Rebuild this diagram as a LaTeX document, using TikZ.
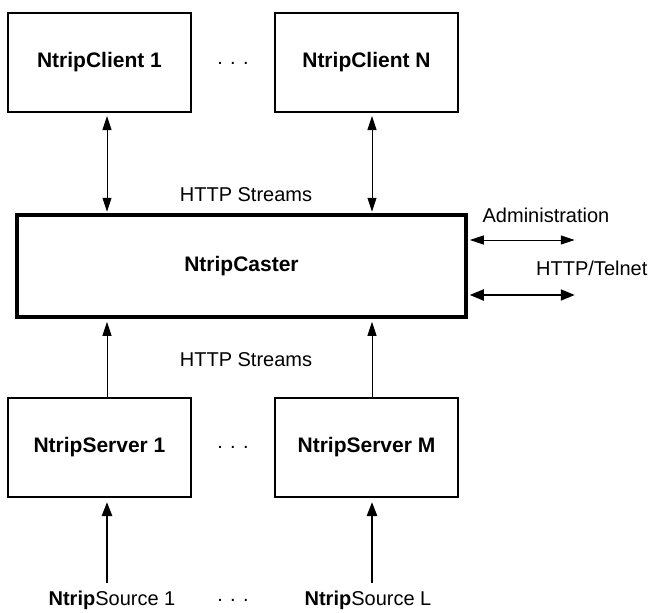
\documentclass[tikz,border=0pt]{standalone}
\usepackage{fontspec}
\setmainfont{Liberation Sans}
\usetikzlibrary{arrows.meta}
\begin{document}
\begin{tikzpicture}[x=1pt,y=-1pt,
  box/.style={draw,line width=2pt,minimum width=183pt,minimum height=99pt,inner sep=0pt,
    font=\fontsize{21}{24}\selectfont\bfseries},
  casterbox/.style={draw,line width=3.5pt,minimum width=449pt,minimum height=102pt,inner sep=0pt,
    font=\fontsize{21}{24}\selectfont\bfseries},
  lbl/.style={inner sep=0pt,font=\fontsize{20}{23}\selectfont},
  thinarrow/.style={line width=1pt,arrows={-{Triangle[width=9pt,length=14pt]}}},
  thinboth/.style={line width=1pt,arrows={{Triangle[width=9pt,length=14pt]}-{Triangle[width=9pt,length=14pt]}}},
  thickboth/.style={line width=2pt,arrows={{Triangle[width=11pt,length=14pt]}-{Triangle[width=11pt,length=14pt]}}},
  thickarrow/.style={line width=2.5pt,arrows={-{Triangle[width=10pt,length=14pt]}}}
]
\useasboundingbox (0,0) rectangle (649,613);
\fill[white] (0,0) rectangle (649,613);

\node[box] (c1) at (99.5,62.5) {NtripClient 1};
\node[box] (cN) at (366.5,62.5) {NtripClient N};
\node[casterbox] (caster) at (241.5,266) {NtripCaster};
\node[box] (s1) at (99.5,447.5) {NtripServer 1};
\node[box] (sM) at (366.5,447.5) {NtripServer M};

\node[lbl] (dots1) at (233,63) {. . .};
\node[lbl] (dots2) at (233,447) {. . .};
\node[lbl] (dots3) at (233,600) {. . .};

\node[lbl] (http1) at (246,195) {HTTP Streams};
\node[lbl] (http2) at (246,360) {HTTP Streams};
\node[lbl] (admin) at (546,215) {Administration};
\node[lbl,anchor=west] (telnet) at (536,268) {HTTP/Telnet};

\node[lbl] (src1) at (112,600) {\textbf{Ntrip}Source 1};
\node[lbl] (srcL) at (368,600) {\textbf{Ntrip}Source L};

% client <-> caster
\draw[thinboth] ([xshift=7.5pt,yshift=-3pt]c1.south) -- ([xshift=7.5pt,yshift=1.5pt]c1.south |- caster.north);
\draw[thinboth] ([xshift=5.5pt,yshift=-3pt]cN.south) -- ([xshift=5.5pt,yshift=1.5pt]cN.south |- caster.north);

% server -> caster
\draw[thinarrow] ([xshift=7.5pt]s1.north) -- ([xshift=7.5pt,yshift=-3pt]s1.north |- caster.south);
\draw[thinarrow] ([xshift=5.5pt]sM.north) -- ([xshift=5.5pt,yshift=-3pt]sM.north |- caster.south);

% source -> server
\draw[thickarrow] ([xshift=7.5pt,yshift=7pt]s1.south |- src1.north) -- ([xshift=7.5pt,yshift=-4pt]s1.south);
\draw[thickarrow] ([xshift=5.5pt,yshift=7pt]sM.south |- srcL.north) -- ([xshift=5.5pt,yshift=-4pt]sM.south);

% administration
\coordinate (a1) at ([xshift=107pt,yshift=26pt]caster.east);
\coordinate (a2) at ([xshift=107pt,yshift=-29pt]caster.east);
\draw[thinboth] ([xshift=2pt,yshift=26pt]caster.east) -- (a1);
\draw[thickboth] ([xshift=2pt,yshift=-29pt]caster.east) -- (a2);
\end{tikzpicture}
\end{document}
